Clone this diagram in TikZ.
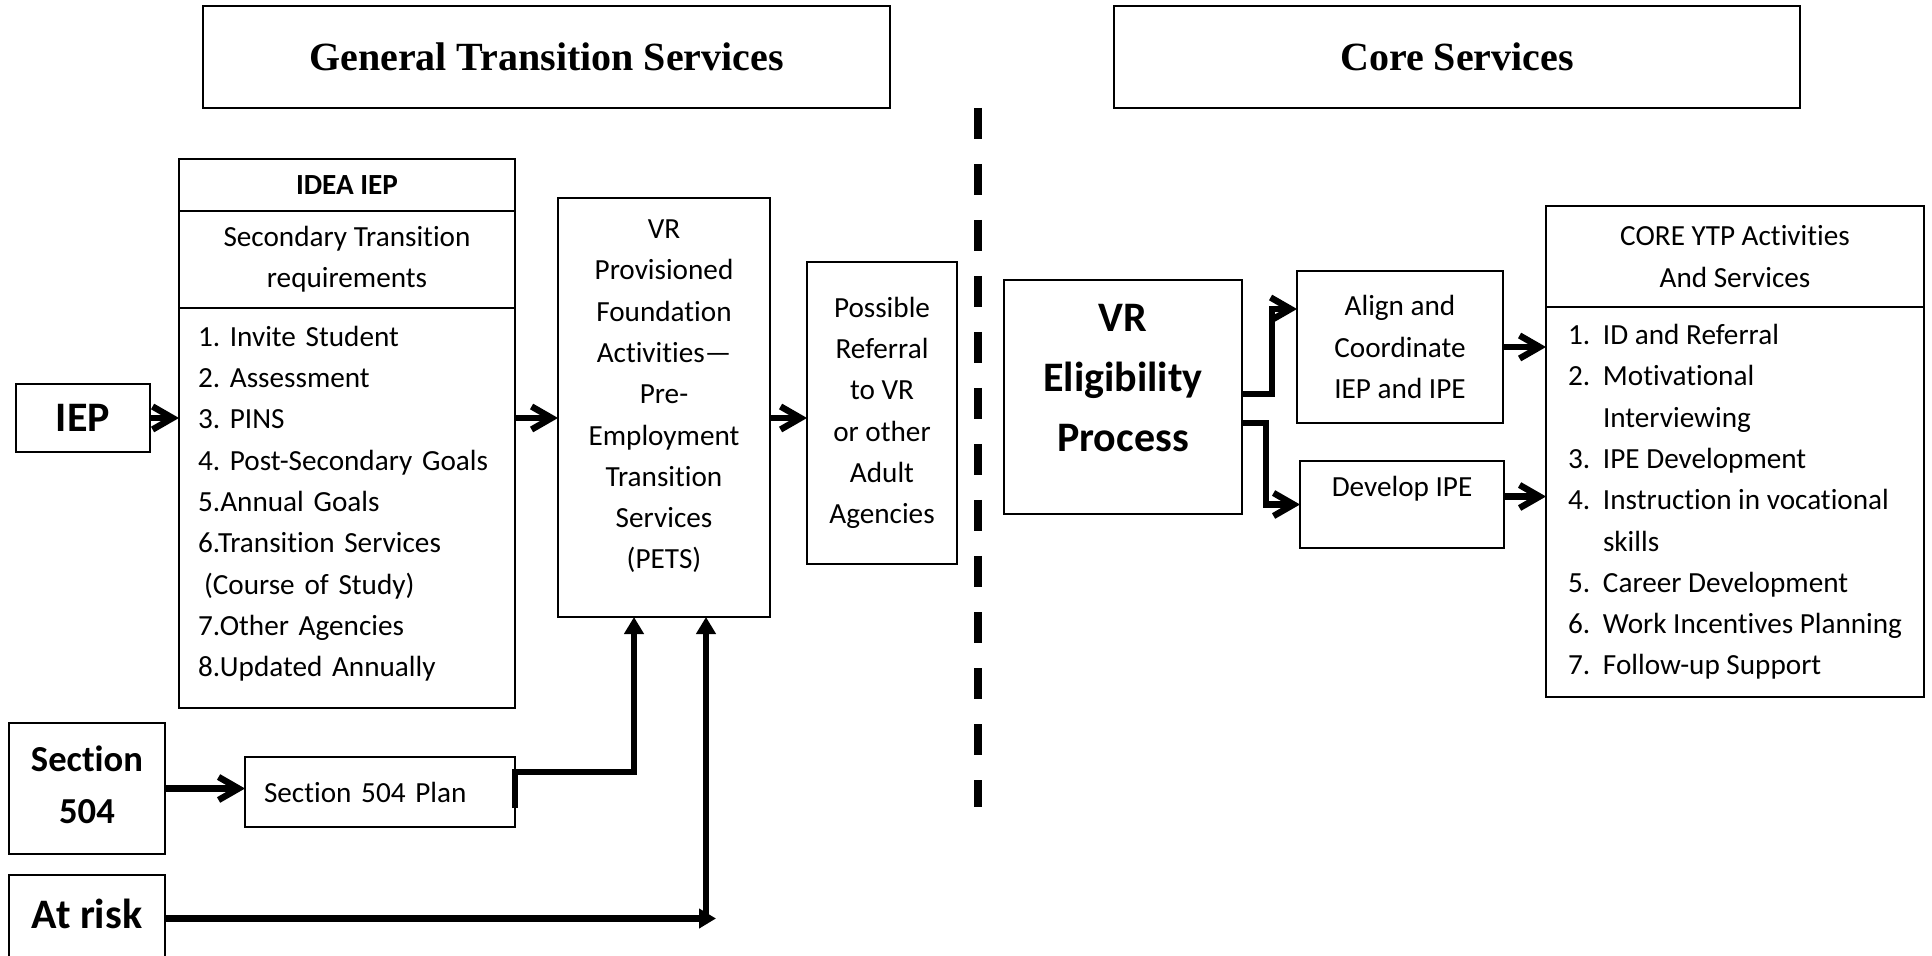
\documentclass[tikz,border=0pt]{standalone}
\usepackage{fontspec}
\setmainfont{Carlito}[Ligatures={NoCommon,NoRequired,NoContextual}]
\newfontfamily\headfont{Liberation Serif}
\usetikzlibrary{arrows.meta,positioning}
\frenchspacing

\newcommand{\bodysize}{\fontsize{14.6pt}{20.65pt}\selectfont}
\newcommand{\bigsize}{\fontsize{21pt}{30pt}\selectfont\bfseries}
\newcommand{\numitem}[1]{\makebox[17.5pt][l]{#1}}

\tikzset{
  box/.style={draw, line width=0.8pt, inner sep=0pt, outer sep=0pt, align=center, font=\bodysize},
  bigbox/.style={box, font=\bigsize},
  titlebox/.style={box, line width=1pt, font=\headfont\bfseries\fontsize{20pt}{24pt}\selectfont},
  flow/.style={line width=3.2pt, -{Straight Barb[length=10pt,width=11.5pt]}},
  feed/.style={line width=3.2pt, -{Triangle[length=8.5pt,width=9.5pt]}},
  divider/.style={line width=4.3pt, dash pattern=on 15.5pt off 12.5pt},
}

\begin{document}
\begin{tikzpicture}[x=0.5pt,y=-0.5pt]
  \useasboundingbox (0,0) rectangle (1932,956);

  % headings
  \node[titlebox, minimum width=343.5pt, minimum height=51pt] (general) at (546.5,57) {General Transition Services};
  \node[titlebox, minimum width=343pt, minimum height=51pt] (core) at (1457,57) {Core Services};

  % divider
  \draw[divider] (978,108) -- (978,807);

  % general transition side
  \node[bigbox, minimum width=67pt, minimum height=34pt] (iep) at (83,418) {IEP};
  \node[box, font=\bodysize\bfseries, minimum width=168pt, minimum height=26pt] (ideahead) at (347,185) {IDEA IEP};
  \node[box, minimum width=168pt, minimum height=48.5pt, below=0pt of ideahead] (ideasub) {Secondary Transition\\requirements};
  \node[box, minimum height=200pt, below=0pt of ideasub, align=left, inner xsep=9.5pt, text width=149pt] (idealist)
    {1. Invite Student\\2. Assessment\\3. PINS\\4. Post-Secondary Goals\\5.Annual Goals\\6.Transition Services\\\hspace*{3pt}(Course of Study)\\7.Other Agencies\\8.Updated Annually\\[-14pt]\mbox{}};
  \node[box, minimum width=106pt, minimum height=209.5pt] (vr) at (664,407.5)
    {VR\\Provisioned\\Foundation\\Activities—\\Pre-\\Employment\\Transition\\Services\\(PETS)\\[-7.5pt]\mbox{}};
  \node[box, minimum width=75pt, minimum height=151pt] (poss) at (882,413) {Possible\\Referral\\to VR\\or other\\Adult\\Agencies};
  \node[box, font=\fontsize{18.3pt}{26pt}\selectfont\bfseries, minimum width=78pt, minimum height=65.5pt] (sec504) at (87,788.5) {Section\\504\\[-22pt]\mbox{}};
  \node[box, minimum height=35pt, align=left, inner xsep=9.5pt, text width=116pt] (plan) at (380,792) {Section 504 Plan};
  \node[bigbox, minimum width=78pt, minimum height=43.5pt] (atrisk) at (87,918.5) {At risk\\[-25pt]\mbox{}};

  \draw[flow] (iep.east) -- (iep.east -| idealist.west);
  \draw[flow] (idealist.east |- iep.east) -- (vr.west |- iep.east);
  \draw[flow] (vr.east |- iep.east) -- (poss.west |- iep.east);
  \draw[flow] (sec504.east) -- (sec504.east -| plan.west);

  \coordinate (planin) at ([xshift=-15pt]vr.south);
  \coordinate (riskin) at ([xshift=21pt]vr.south);
  \draw[feed] ([yshift=-8pt]plan.east) -- ([yshift=10pt]plan.east) -| (planin);
  \draw[feed] (atrisk.east) -- ([xshift=5pt]atrisk.east -| riskin);
  \draw[feed] (atrisk.east -| riskin) -- (riskin);

  % core services side
  \node[bigbox, minimum width=119pt, minimum height=117pt] (elig) at (1123,397) {VR\\Eligibility\\Process\\[-11pt]\mbox{}};
  \node[box, minimum width=103pt, minimum height=76pt] (alignipe) at (1400,347) {Align and\\Coordinate\\IEP and IPE};
  \node[box, minimum width=102pt, minimum height=43.5pt] (develop) at (1402,504.5) {Develop IPE\\[-2.5pt]\mbox{}};
  \node[box, minimum width=189pt, minimum height=50.5pt] (corehead) at (1735,256.5) {CORE YTP Activities\\And Services};
  \node[box, minimum width=189pt, minimum height=195pt, below=0pt of corehead, align=left] (corelist)
    {\numitem{1.}ID and Referral\\\numitem{2.}Motivational\\\numitem{}Interviewing\\\numitem{3.}IPE Development\\\numitem{4.}Instruction in vocational\\\numitem{}skills\\\numitem{5.}Career Development\\\numitem{6.}Work Incentives Planning\\\numitem{7.}Follow-up Support};

  \draw[flow] ([yshift=1.5pt]elig.east) -- ++(15pt,0) |- ([yshift=19pt]alignipe.west);
  \draw[flow] ([yshift=-13pt]elig.east) -- ++(12pt,0) |- (develop.west);
  \draw[flow] (alignipe.east) -- (alignipe.east -| corelist.west);
  \draw[flow] ([yshift=4pt]develop.east) -- ([yshift=4pt]develop.east -| corelist.west);
\end{tikzpicture}
\end{document}
